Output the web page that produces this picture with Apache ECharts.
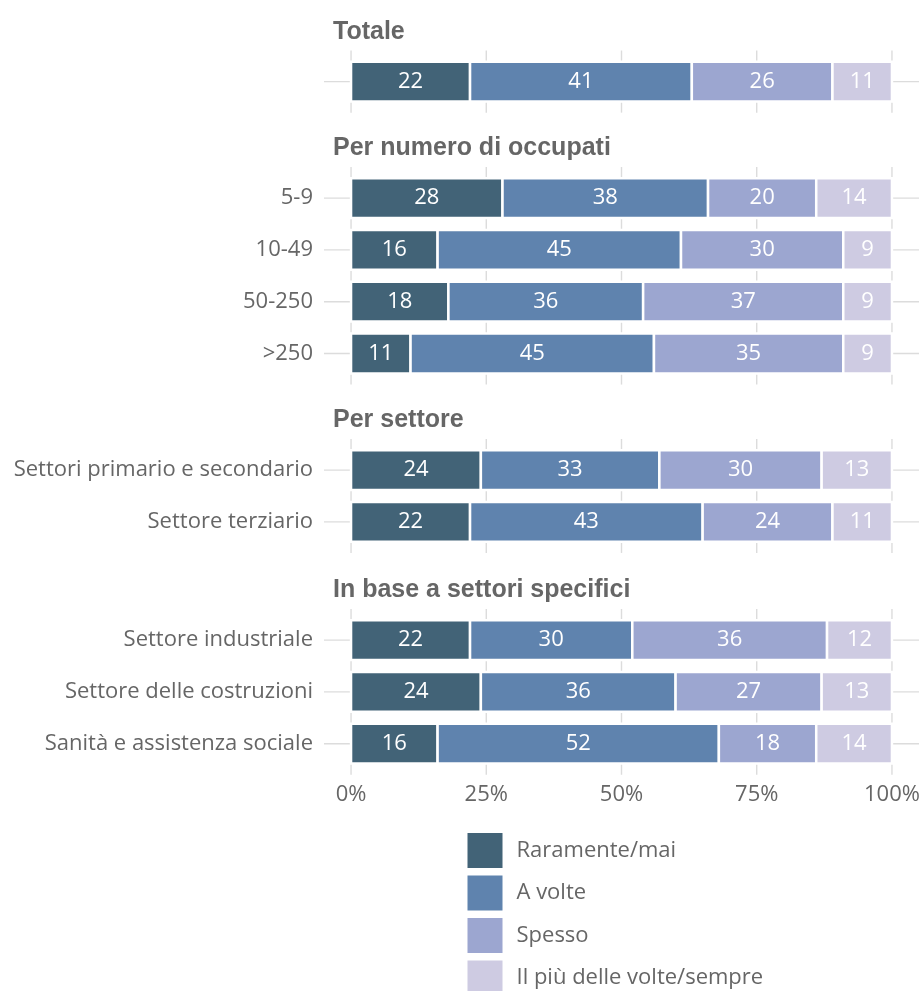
<!DOCTYPE html>
<html>
<head>
<meta charset="utf-8">
<script src="https://cdn.jsdelivr.net/npm/echarts@6/dist/echarts.min.js"></script>
<style>
  html, body { margin: 0; padding: 0; background: #fff; }
  #chart { width: 923px; height: 991px; }
</style>
</head>
<body>
<div id="chart"></div>
<script>
// Response categories (stack order, left to right)
const responses = ['Raramente/mai', 'A volte', 'Spesso', 'Il più delle volte/sempre'];

// Panel titles and the row labels of each panel
const panelTitles = ['Totale', 'Per numero di occupati', 'Per settore', 'In base a settori specifici'];
const rowLabels = [
  [''],
  ['5-9', '10-49', '50-250', '>250'],
  ['Settori primario e secondario', 'Settore terziario'],
  ['Settore industriale', 'Settore delle costruzioni', 'Sanità e assistenza sociale']
];

// Shares (%) per response, one sub-array per panel
const raramente = [[22], [28, 16, 18, 11], [24, 22], [22, 24, 16]];
const aVolte    = [[41], [38, 45, 36, 45], [33, 43], [30, 36, 52]];
const spesso    = [[26], [20, 30, 37, 35], [30, 24], [36, 27, 18]];
const sempre    = [[11], [14, 9, 9, 9],   [13, 11], [12, 13, 14]];
const seriesValues = [raramente, aVolte, spesso, sempre];

// Percentage ticks on the horizontal axis
const xTicks = [0, 25, 50, 75, 100];

// ---- styling ----
const colors = ['#426377', '#5f83ae', '#9ca6d0', '#cecbe2'];
const textColor = '#666666';
const gridColor = '#dcdcdc';
const regularFont = '"Open Sans", sans-serif';
const titleFont = '"Liberation Sans", Arial, sans-serif';

// ---- layout ----
const band = 51.8;                 // pixel height of one row
const panelTops = [50.5, 167, 439, 609];
const plotLeft = 324;
const plotWidth = 595;

const chart = echarts.init(document.getElementById('chart'), null, { renderer: 'canvas' });

const grids = [], xAxes = [], yAxes = [], titles = [], series = [];

rowLabels.forEach((rows, p) => {
  const n = rows.length;
  const height = (n + 0.2) * band;
  grids.push({ left: plotLeft, top: panelTops[p], width: plotWidth, height: height, containLabel: false });

  const isLast = p === rowLabels.length - 1;
  xAxes.push({
    gridIndex: p, type: 'value', min: -5, max: 105,
    axisLine: { show: false }, axisTick: { show: false }, splitLine: { show: false },
    axisLabel: isLast ? {
      show: true, customValues: xTicks, formatter: v => v + '%',
      color: textColor, fontSize: 22, fontFamily: regularFont, margin: 9
    } : { show: false }
  });

  yAxes.push({
    gridIndex: p, type: 'value', inverse: true, min: 0.4, max: n + 0.6,
    axisLine: { show: false }, axisTick: { show: false }, splitLine: { show: false },
    axisLabel: {
      show: true, customValues: rows.map((_, i) => i + 1),
      formatter: v => rows[Math.round(v) - 1],
      color: textColor, fontSize: 22, fontFamily: regularFont, margin: 11
    }
  });

  titles.push({
    text: panelTitles[p], left: 333, top: panelTops[p] - 31, padding: 0,
    textStyle: { color: textColor, fontSize: 25, fontWeight: 'bold', fontFamily: titleFont }
  });

  // background grid: vertical lines at the x ticks, horizontal line through each row
  const gridItems = xTicks.map(v => [v, 1]).concat(rows.map((_, i) => [0, i + 1]));
  series.push({
    type: 'custom', xAxisIndex: p, yAxisIndex: p, silent: true, z: 1,
    data: gridItems,
    renderItem: (params, api) => {
      const cs = params.coordSys;
      if (params.dataIndex < xTicks.length) {
        const x = api.coord([api.value(0), api.value(1)])[0];
        return { type: 'line', shape: { x1: x, y1: cs.y, x2: x, y2: cs.y + cs.height },
                 style: { stroke: gridColor, lineWidth: 1.4 } };
      }
      const y = api.coord([api.value(0), api.value(1)])[1];
      return { type: 'line', shape: { x1: cs.x, y1: y, x2: cs.x + cs.width, y2: y },
               style: { stroke: gridColor, lineWidth: 1.4 } };
    }
  });

  // stacked segments, one series per response
  responses.forEach((name, k) => {
    const data = rows.map((_, i) => {
      let start = 0;
      for (let j = 0; j < k; j++) start += seriesValues[j][p][i];
      const v = seriesValues[k][p][i];
      return [start, start + v, i + 1, v];
    });
    series.push({
      type: 'custom', name: name, xAxisIndex: p, yAxisIndex: p, z: 2,
      itemStyle: { color: colors[k] },
      encode: { x: [0, 1], y: 2 },
      data: data,
      renderItem: (params, api) => {
        const s = api.coord([api.value(0), api.value(2)]);
        const e = api.coord([api.value(1), api.value(2)]);
        const h = api.size([0, 1])[1] * 0.77;
        return {
          type: 'group',
          children: [
            { type: 'rect', shape: { x: s[0], y: s[1] - h / 2, width: e[0] - s[0], height: h },
              style: { fill: colors[k], stroke: '#ffffff', lineWidth: 2.5 } },
            { type: 'text', x: (s[0] + e[0]) / 2, y: s[1],
              style: { text: String(api.value(3)), fill: '#ffffff', align: 'center', verticalAlign: 'middle',
                       fontSize: 22, fontFamily: regularFont } }
          ]
        };
      }
    });
  });
});

chart.setOption({
  animation: false,
  backgroundColor: '#ffffff',
  title: titles,
  grid: grids,
  xAxis: xAxes,
  yAxis: yAxes,
  legend: {
    orient: 'vertical', left: 467.5, top: 833, height: 300, padding: 0,
    itemWidth: 35, itemHeight: 35, itemGap: 7.5, icon: 'rect',
    data: responses,
    itemStyle: { borderWidth: 0 },
    textStyle: { color: textColor, fontSize: 22, fontFamily: regularFont, padding: [0, 0, 0, 9] }
  },
  series: series
});
</script>
</body>
</html>
